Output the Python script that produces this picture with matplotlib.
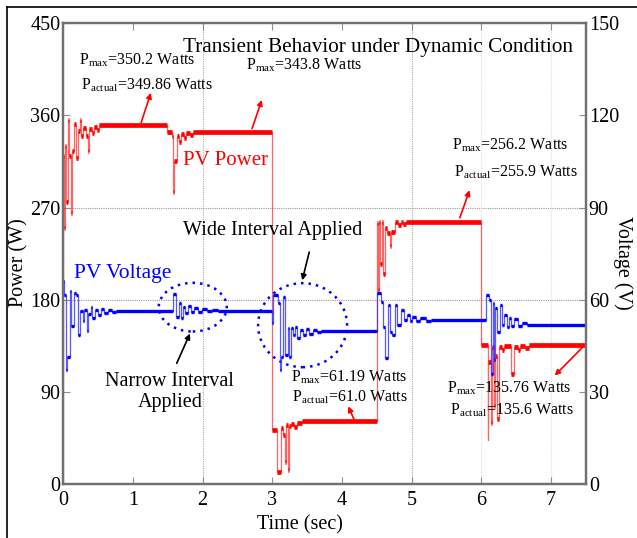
import numpy as np
import matplotlib.pyplot as plt
from matplotlib.lines import Line2D
from matplotlib.patches import Ellipse

plt.rcParams["font.family"] = ["Liberation Serif", "DejaVu Serif"]
plt.rcParams["mathtext.fontset"] = "custom"
plt.rcParams["mathtext.rm"] = "Liberation Serif"

# PV power (W), step changes over time (sec)
t_power = [0.000, 0.004, 0.015, 0.025, 0.040, 0.070, 0.090, 0.110, 0.130, 0.160,
           0.190, 0.210, 0.240, 0.260, 0.290, 0.330, 0.360, 0.375, 0.420, 0.450,
           0.490, 0.520,
           1.490, 1.560, 1.580, 1.590, 1.630, 1.660, 1.690, 1.730, 1.770, 1.820, 1.860,
           3.000, 3.070, 3.130, 3.150, 3.180, 3.200, 3.220, 3.240, 3.270, 3.310, 3.350, 3.430,
           4.500, 4.510, 4.530, 4.550, 4.570, 4.590, 4.610, 4.650, 4.690, 4.710, 4.760,
           4.800, 4.840, 4.880, 4.920,
           6.000, 6.090, 6.100, 6.130, 6.150, 6.180, 6.195, 6.230, 6.245, 6.300, 6.330,
           6.420, 6.460, 6.520, 6.560, 6.620, 6.680, 7.500]
p_power = [0, 320, 250, 330, 275, 355, 320, 265, 325, 352,
           318, 345, 355, 340, 348, 340, 325, 347, 343, 349,
           346, 350.2,
           343.8, 340, 285, 315, 340, 334, 342, 338, 343, 341, 343.8,
           53, 12, 55, 48, 22, 58, 14, 57, 59, 56, 60, 61.2,
           255, 190, 256, 215, 256, 205, 250, 245, 232, 246, 256,
           253, 256, 254, 256.2,
           136, 43, 119, 60, 134, 76, 125, 64, 134, 131, 135,
           108, 134, 131, 135, 133, 135.8, 135.8]

# PV voltage (V)
t_volt = [0.000, 0.010, 0.040, 0.060, 0.100, 0.110, 0.160, 0.190, 0.220, 0.240,
          0.280, 0.300, 0.340, 0.360, 0.400, 0.420, 0.460, 0.500, 0.540, 0.580,
          0.640, 0.700, 0.760,
          1.580, 1.620, 1.660, 1.690, 1.720, 1.750, 1.790, 1.830, 1.880, 1.930,
          1.990, 2.060, 2.140, 2.220,
          3.000, 3.010, 3.080, 3.110, 3.130, 3.150, 3.180, 3.220, 3.240, 3.270,
          3.300, 3.330, 3.360, 3.400, 3.440, 3.480, 3.530, 3.580, 3.640, 3.700,
          4.500, 4.560, 4.590, 4.610, 4.660, 4.690, 4.720, 4.760, 4.790, 4.850,
          4.890, 4.930, 4.970, 5.010, 5.060, 5.120, 5.200, 5.280,
          6.070, 6.110, 6.130, 6.160, 6.180, 6.200, 6.220, 6.260, 6.290, 6.330,
          6.360, 6.390, 6.430, 6.470, 6.520, 6.580, 6.660, 7.500]
v_volt = [66, 61.5, 37, 41.5, 62.8, 51.4, 62.2, 61.6, 48.6, 56.3,
          53, 56.8, 49.8, 55.5, 57.5, 54, 56.8, 55.2, 57, 55.8,
          56.8, 56, 56.4,
          61.8, 54.4, 58.9, 54, 57.7, 55.6, 57.9, 55.9, 57.4, 56,
          57, 56.2, 56.7, 56.4,
          52.4, 61.5, 58.8, 37, 41.4, 61, 42, 50.8, 41.4, 50.7,
          48.5, 51, 47.5, 50.2, 48.5, 50.6, 49.0, 50.3, 49.4, 49.8,
          62.1, 59.3, 51.2, 41, 58.2, 49.6, 48.5, 58.2, 51.7, 56.6,
          53.4, 55, 53, 54.5, 53.1, 54, 53.2, 53.4,
          61.5, 59.9, 36, 58.9, 40.4, 57.3, 49.6, 58.2, 51.7, 55,
          51.2, 54, 51.5, 53.6, 51.6, 52.6, 51.8, 51.8]

fig = plt.figure(figsize=(6.37, 5.38), dpi=100)
ax = fig.add_axes([0.099, 0.100, 0.821, 0.857])
ax2 = ax.twinx()

t_p = np.array(t_power)
p = np.array(p_power)
t_v = np.array(t_volt)
v = np.array(v_volt)

# thin transitions + thicker held levels (ripple band)
ax.plot(t_p, p, drawstyle="steps-post", color="#ff3030", lw=0.9, alpha=0.75)
ax.hlines(p[:-1], t_p[:-1], t_p[1:], color="red", lw=3.4)
ax2.plot(t_v, v, drawstyle="steps-post", color="#3030ff", lw=0.9, alpha=0.8)
ax2.hlines(v[:-1], t_v[:-1], t_v[1:], color="blue", lw=2.4)

ax.set_xlim(0, 7.5)
ax.set_ylim(0, 450)
ax2.set_ylim(0, 150)
ax.set_xticks(range(0, 8))
ax.set_yticks(range(0, 451, 90))
ax2.set_yticks(range(0, 151, 30))

for y in [180, 270]:
    ax.axhline(y, color="#999999", lw=0.8, ls=(0, (1, 1)), zorder=0)
for x in [2, 5]:
    ax.axvline(x, color="#aaaaaa", lw=0.8, ls=(0, (1, 1)), zorder=0)
for x in [6, 7]:
    ax.axvline(x, color="#dddddd", lw=0.8, ls=(0, (1, 1)), zorder=0)

for a in (ax, ax2):
    for s in a.spines.values():
        s.set_color("#707070")
        s.set_linewidth(1.6)
ax.tick_params(axis="both", direction="in", length=5, color="#909090",
               labelsize=14.5, pad=2, top=True)
ax.tick_params(axis="x", pad=5)
ax2.tick_params(axis="y", direction="in", length=5, color="#909090",
                labelsize=14.5, pad=2)

ax.set_xlabel("Time (sec)", fontsize=14.5, labelpad=0)
ax.xaxis.set_label_coords(0.453, -0.067)
ax.set_ylabel("Power (W)", fontsize=14.5, labelpad=0)
ax.yaxis.set_label_coords(-0.066, 0.48)
ax2.set_ylabel("Voltage (V)", fontsize=14.5, rotation=270, labelpad=0)
ax2.yaxis.set_label_coords(1.09, 0.48)

fs = 11.5
ax.text(4.52, 426, "Transient Behavior under Dynamic Condition", fontsize=15.3,
        ha="center", va="center")
ax.text(0.23, 414, r"P$_{\mathrm{max}}$=350.2 Watts", fontsize=fs, va="center")
ax.text(0.26, 389, r"P$_{\mathrm{actual}}$=349.86 Watts", fontsize=fs, va="center")
ax.text(2.62, 409, r"P$_{\mathrm{max}}$=343.8 Watts", fontsize=fs, va="center")
ax.text(1.72, 316, "PV Power", fontsize=15, color="red", va="center")
ax.text(0.15, 206, "PV Voltage", fontsize=15.5, color="blue", va="center")
ax.text(3.01, 248, "Wide Interval Applied", fontsize=14.5, ha="center", va="center")
ax.text(1.53, 90, "Narrow Interval\nApplied", fontsize=14.5, ha="center",
        va="center", linespacing=1.15)
ax.text(3.27, 104.5, r"P$_{\mathrm{max}}$=61.19 Watts", fontsize=fs, va="center")
ax.text(3.28, 85, r"P$_{\mathrm{actual}}$=61.0 Watts", fontsize=fs, va="center")
ax.text(5.58, 331, r"P$_{\mathrm{max}}$=256.2 Watts", fontsize=fs, va="center")
ax.text(5.61, 304.6, r"P$_{\mathrm{actual}}$=255.9 Watts", fontsize=fs, va="center")
ax.text(5.51, 93.7, r"P$_{\mathrm{max}}$=135.76 Watts", fontsize=fs, va="center")
ax.text(5.55, 72.2, r"P$_{\mathrm{actual}}$=135.6 Watts", fontsize=fs, va="center")

red_arrows = [((1.12, 353), (1.26, 382)), ((2.71, 347), (2.85, 375)),
              ((4.19, 60.5), (4.09, 76)), ((5.69, 260), (5.83, 287)),
              ((7.48, 135.7), (7.05, 106))]
for tail, head in red_arrows:
    ax.annotate("", xy=head, xytext=tail,
                arrowprops=dict(arrowstyle="-|>", color="red", lw=1.2,
                                mutation_scale=8, shrinkA=0, shrinkB=0))
black_arrows = [((3.53, 226.5), (3.43, 199)), ((1.63, 118), (1.82, 147))]
for tail, head in black_arrows:
    ax.annotate("", xy=head, xytext=tail,
                arrowprops=dict(arrowstyle="-|>", color="black", lw=1.2,
                                mutation_scale=8, shrinkA=0, shrinkB=0))

ax.add_patch(Ellipse((1.86, 172.8), 0.975, 47.5, fill=False, ec="blue",
                     lw=1.8, ls=(0, (1, 2)), zorder=5))
ax.add_patch(Ellipse((3.435, 155.2), 1.276, 82, fill=False, ec="blue",
                     lw=1.8, ls=(0, (1, 2)), zorder=5))

fig.add_artist(Line2D([0.011, 0.011], [0, 0.987], color="black", lw=1.2))
fig.add_artist(Line2D([0.011, 1], [0.987, 0.987], color="black", lw=1.2))

plt.savefig("out.png", dpi=100)
